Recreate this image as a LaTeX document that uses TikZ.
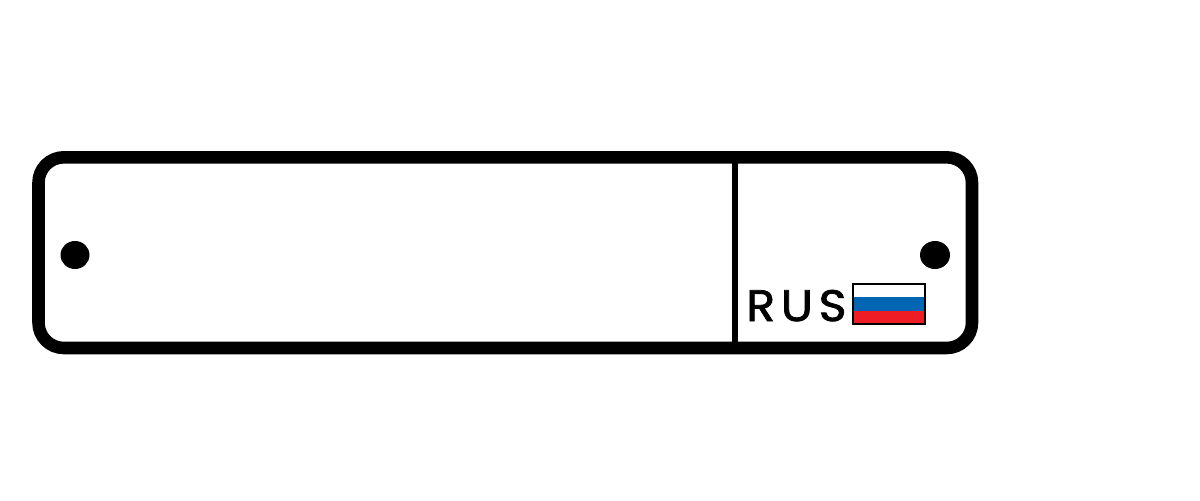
\documentclass[tikz,border=0pt]{standalone}
\usepackage{fontspec}
\newfontfamily\platefont[LetterSpace=13,FakeBold=1.8,FakeStretch=1.08]{Poppins}
\definecolor{flagblue}{RGB}{0,102,179}
\definecolor{flagred}{RGB}{238,28,37}
\tikzset{
  plateline/.style={draw=black,line width=9.4pt},
  hole/.style={fill=black},
}

\begin{document}
\begin{tikzpicture}[x=0.75pt,y=0.75pt,yscale=-1,xscale=1]
\useasboundingbox (0,0) rectangle (1200,500);

%Shape: Rounded Rect [id:plate]
\draw [plateline,rounded corners=19pt]  (38.5,157.3) rectangle (972,348) ;
%Straight Lines [id:divider]
\draw [line width=4.5pt]   (735,157) -- (735,348) ;

%Shape: Ellipse [id:holeleft]
\path [hole]  (75,255) ellipse (14.5 and 14) ;
%Shape: Ellipse [id:holeright]
\path [hole]  (935,255) ellipse (15 and 14) ;

%Shape: Rectangle [id:flag]
\fill [white]  (853,284) rectangle (925,297) ;
\fill [flagblue]  (853,297) rectangle (925,310.5) ;
\fill [flagred]  (853,310.5) rectangle (925,324) ;
\draw [line width=1.7pt]  (853,284) rectangle (925,324) ;

% Text Node
\node (rus) [anchor=base west,inner sep=0pt] at (746,321) {\platefont\fontsize{33pt}{33pt}\selectfont RUS};

\end{tikzpicture}
\end{document}
